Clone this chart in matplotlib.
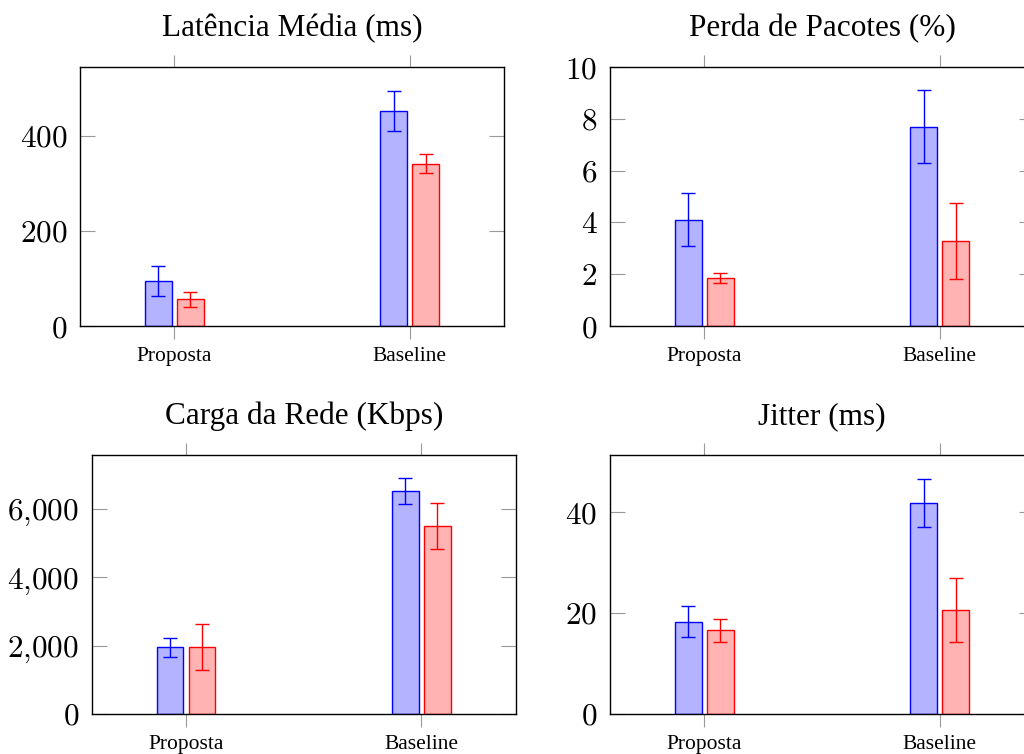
import numpy as np
import matplotlib
matplotlib.use("Agg")
import matplotlib.pyplot as plt
from matplotlib.ticker import FuncFormatter

plt.rcParams['font.family'] = ['Liberation Serif', 'DejaVu Serif']
plt.rcParams['mathtext.fontset'] = 'cm'

categorias = ['Proposta', 'Baseline']

titulos = ['Latência Média (ms)', 'Perda de Pacotes (%)',
           'Carga da Rede (Kbps)', 'Jitter (ms)']

# media e desvio (azul = serie A, vermelho = serie B)
lat_a, lat_a_err = [95, 453], [31, 42]
lat_b, lat_b_err = [56, 342], [16, 20]
perda_a, perda_a_err = [4.1, 7.7], [1.02, 1.4]
perda_b, perda_b_err = [1.84, 3.27], [0.19, 1.47]
carga_a, carga_a_err = [1944, 6519], [264, 370]
carga_b, carga_b_err = [1965, 5493], [670, 680]
jitter_a, jitter_a_err = [18.3, 41.8], [3.0, 4.8]
jitter_b, jitter_b_err = [16.6, 20.6], [2.25, 6.4]

series = [
    (lat_a, lat_a_err, lat_b, lat_b_err),
    (perda_a, perda_a_err, perda_b, perda_b_err),
    (carga_a, carga_a_err, carga_b, carga_b_err),
    (jitter_a, jitter_a_err, jitter_b, jitter_b_err),
]

yticks = [[0, 200, 400], [0, 2, 4, 6, 8, 10], [0, 2000, 4000, 6000], [0, 20, 40]]
ylims = [545, 10, 7575, 51.3]

posicoes = [[0.0781, 0.5676], [0.5957, 0.5676], [0.0896, 0.0531], [0.5957, 0.0531]]
w, h = 0.414, 0.3435

fig = plt.figure(figsize=(10.24, 7.54), dpi=100)

x = np.arange(len(categorias))
bw = 0.114
off = 0.068


def fmt(v, pos):
    if v >= 1000:
        s = '{:,}'.format(int(v)).replace(',', '{,}')
    else:
        s = '{:g}'.format(v)
    return '$' + s + '$'


for i in range(4):
    a, ae, b, be = series[i]
    ax = fig.add_axes([posicoes[i][0], posicoes[i][1], w, h])
    ax.bar(x - off, a, bw, color='#b3b3ff', edgecolor='blue', linewidth=1, zorder=2)
    ax.errorbar(x - off, a, yerr=ae, fmt='none', ecolor='blue', elinewidth=1,
                capsize=5, capthick=1, zorder=3)
    ax.bar(x + off, b, bw, color='#ffb3b3', edgecolor='red', linewidth=1, zorder=2)
    ax.errorbar(x + off, b, yerr=be, fmt='none', ecolor='red', elinewidth=1,
                capsize=5, capthick=1, zorder=3)
    ax.set_xlim(-0.4, 1.4)
    ax.set_ylim(0, ylims[i])
    ax.set_yticks(yticks[i])
    ax.yaxis.set_major_formatter(FuncFormatter(fmt))
    ax.set_xticks(x)
    ax.set_xticklabels(categorias, fontsize=15.5)
    ax.tick_params(axis='y', direction='in', left=True, right=True, length=11,
                   color='0.6', labelsize=22.5, pad=9)
    ax.tick_params(axis='x', direction='out', top=True, bottom=True, length=9,
                   color='0.6', pad=6)
    for s in ax.spines.values():
        s.set_linewidth(1)
    ax.set_title(titulos[i], fontsize=22.5, pad=22)

fig.savefig('out.png', dpi=100)
